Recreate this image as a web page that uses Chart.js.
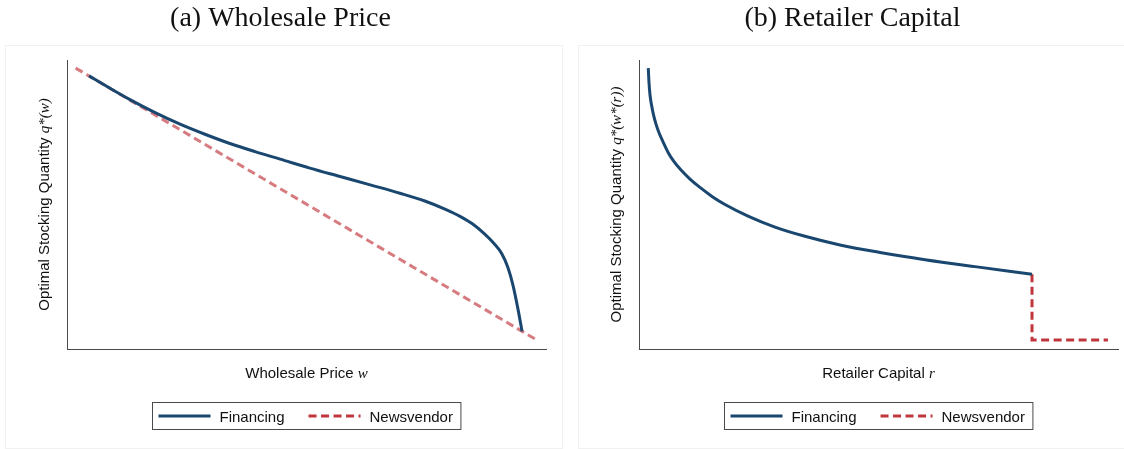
<!DOCTYPE html>
<html>
<head>
<meta charset="utf-8">
<script src="https://cdn.jsdelivr.net/npm/chart.js@4/dist/chart.umd.min.js"></script>
<style>
    body { margin: 0; background: #fff; }
    #wrap { position: relative; width: 1124px; height: 449px; overflow: hidden; background: #fff; }
    .panel { position: absolute; top: 45px; height: 404px; border: 1px solid #f1f1f1; box-sizing: border-box; }
    canvas { position: absolute; top: 0; }
</style>
</head>
<body>
<div id="wrap">
    <div class="panel" style="left: 5px; width: 558px;"></div>
    <div class="panel" style="left: 578px; width: 560px;"></div>
    <canvas id="wholesale-chart" width="552" height="449" style="left: 0px;"></canvas>
    <canvas id="capital-chart" width="552" height="449" style="left: 572px;"></canvas>
</div>
<script>
// Panel (a): stocking quantity against wholesale price w
const priceFinX = [4.6, 9.0, 13.15, 18.4, 23.6, 28.8, 34.0, 39.25, 44.5, 50.7, 57.0, 63.3, 69.5, 74.7, 78.9, 82.05, 84.55, 87.05, 89.15, 90.8, 92.05, 93.1, 94.15, 95.0];
const priceFinY = [94.5, 90.2, 86.3, 81.8, 77.8, 74.3, 71.1, 68.3, 65.7, 62.6, 59.7, 56.8, 53.9, 51.2, 48.4, 45.9, 43.4, 40.0, 36.5, 32.9, 28.2, 22.1, 13.8, 6.1];
const priceNewsX = [1.8, 98.3];
const priceNewsY = [97.2, 2.9];

// Panel (b): stocking quantity against retailer capital r
const capitalFinX = [1.94, 2.09, 2.3, 2.61, 3.03, 3.55, 4.18, 5.01, 6.05, 7.31, 8.77, 10.65, 12.73, 15.24, 17.95, 22.76, 28.39, 34.66, 41.96, 50.31, 59.71, 70.15, 82.05];
const capitalFinY = [97.2, 92.1, 87.9, 84.5, 81.0, 77.8, 74.8, 71.7, 68.1, 64.8, 61.9, 58.8, 55.9, 52.8, 50.0, 46.0, 42.2, 39.0, 36.0, 33.4, 30.9, 28.5, 25.9];
const capitalNewsX = [82.05, 82.05, 97.9];
const capitalNewsY = [25.9, 3.1, 3.1];

const seriesNames = ['Financing', 'Newsvendor'];

const NAVY = '#1a476f';
const RED = '#c0363c';
const SANS = '"Liberation Sans", Arial, sans-serif';
const SERIF = '"Liberation Serif", "Times New Roman", serif';

function toPoints(xs, ys) {
    return xs.map((x, i) => ({ x: x, y: ys[i] }));
}

// draws a run of text pieces in different fonts, centred on cx
function drawMixed(ctx, parts, cx, y) {
    let total = 0;
    parts.forEach(p => { ctx.font = p.font; total += ctx.measureText(p.text).width; });
    let x = cx - total / 2;
    ctx.textAlign = 'left';
    parts.forEach(p => {
        ctx.font = p.font;
        ctx.fillText(p.text, x, y);
        x += ctx.measureText(p.text).width;
    });
}

// titles, axis titles and the boxed legend, all placed from the chart area
const panelText = {
    id: 'panelText',
    afterDraw(chart, args, opts) {
        const { ctx, chartArea: a } = chart;
        const cx = (a.left + a.right) / 2;
        ctx.save();
        ctx.fillStyle = '#111';
        ctx.textBaseline = 'alphabetic';

        ctx.font = '28px ' + SERIF;
        ctx.textAlign = 'center';
        ctx.fillText(opts.title, cx - 26, 26);

        drawMixed(ctx, opts.xTitle, cx, a.bottom + 29);

        ctx.save();
        ctx.translate(a.left - 18, (a.top + a.bottom) / 2);
        ctx.rotate(-Math.PI / 2);
        drawMixed(ctx, opts.yTitle, 0, 0);
        ctx.restore();

        // legend
        ctx.font = '15px ' + SANS;
        const sample = 52, pad = 6, gap = 9, between = 24;
        const items = chart.data.datasets.map(ds => ({
            label: ds.label,
            color: ds.legendColor || ds.borderColor,
            dash: ds.borderDash || [],
            w: ctx.measureText(ds.label).width
        }));
        let width = pad + 8;
        items.forEach((it, i) => { width += sample + gap + it.w + (i < items.length - 1 ? between : 0); });
        const top = a.bottom + 53, height = 27;
        const left = Math.round(cx - width / 2) + 0.5;
        ctx.strokeStyle = '#4a4a4a';
        ctx.lineWidth = 1;
        ctx.strokeRect(left, top + 0.5, width, height);

        let x = left + pad;
        items.forEach(it => {
            ctx.beginPath();
            ctx.setLineDash(it.dash);
            ctx.strokeStyle = it.color;
            ctx.lineWidth = 3;
            ctx.moveTo(x, top + 14);
            ctx.lineTo(x + sample, top + 14);
            ctx.stroke();
            ctx.setLineDash([]);
            ctx.fillStyle = '#111';
            ctx.fillText(it.label, x + sample + gap, top + 19.5);
            x += sample + gap + it.w + between;
        });
        ctx.restore();
    }
};

function buildChart(canvasId, finPoints, newsPoints, newsColor, text) {
    const ctx = document.getElementById(canvasId).getContext('2d');
    const axis = {
        type: 'linear',
        min: 0,
        max: 100,
        grid: { display: false, drawTicks: false },
        ticks: { display: false },
        border: { display: true, color: '#4a4a4a', width: 1 }
    };
    return new Chart(ctx, {
        type: 'line',
        data: {
            datasets: [
                {
                    label: seriesNames[0],
                    data: finPoints,
                    borderColor: NAVY,
                    borderWidth: 3,
                    pointRadius: 0,
                    cubicInterpolationMode: 'monotone',
                    fill: false
                },
                {
                    label: seriesNames[1],
                    data: newsPoints,
                    borderColor: newsColor,
                    legendColor: RED,
                    borderWidth: 3,
                    borderDash: [8, 4.5],
                    pointRadius: 0,
                    tension: 0,
                    fill: false
                }
            ]
        },
        options: {
            responsive: false,
            animation: false,
            layout: { padding: { left: 67, right: 6, top: 60, bottom: 100 } },
            plugins: {
                legend: { display: false },
                tooltip: { enabled: false },
                panelText: text
            },
            scales: { x: axis, y: axis }
        },
        plugins: [panelText]
    });
}

const axisFont = '15px ' + SANS;
const mathFont = 'italic 15px ' + SERIF;

buildChart('wholesale-chart',
    toPoints(priceFinX, priceFinY),
    toPoints(priceNewsX, priceNewsY),
    'rgba(192, 54, 60, 0.65)',
    {
        title: '(a) Wholesale Price',
        xTitle: [{ text: 'Wholesale Price ', font: axisFont }, { text: 'w', font: mathFont }],
        yTitle: [{ text: 'Optimal Stocking Quantity ', font: axisFont }, { text: 'q*(w)', font: mathFont }]
    });

buildChart('capital-chart',
    toPoints(capitalFinX, capitalFinY),
    toPoints(capitalNewsX, capitalNewsY),
    RED,
    {
        title: '(b) Retailer Capital',
        xTitle: [{ text: 'Retailer Capital ', font: axisFont }, { text: 'r', font: mathFont }],
        yTitle: [{ text: 'Optimal Stocking Quantity ', font: axisFont }, { text: 'q*(w*(r))', font: mathFont }]
    });
</script>
</body>
</html>
